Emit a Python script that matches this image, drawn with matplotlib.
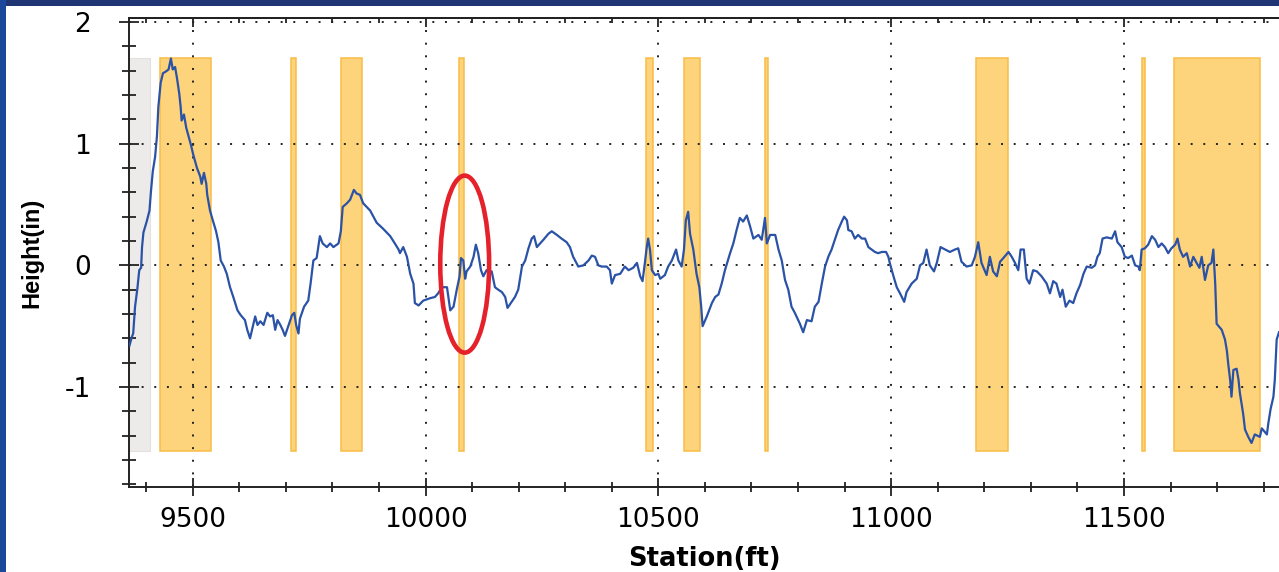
import matplotlib
matplotlib.use("Agg")
import matplotlib.pyplot as plt
from matplotlib.ticker import MultipleLocator, NullFormatter
from matplotlib.patches import Ellipse, Rectangle

# ---------------- data ----------------
station = [
    9364, 9369, 9372, 9376, 9381, 9385, 9389, 9391, 9394, 9401, 9407, 9410, 9414, 9419, 9423, 9426,
    9431, 9436, 9441, 9448, 9453, 9457, 9462, 9466, 9471, 9474, 9476, 9481, 9486, 9491, 9496, 9501,
    9509, 9516, 9519, 9524, 9529, 9531, 9537, 9543, 9550, 9555, 9560, 9567, 9573, 9580, 9587, 9596,
    9603, 9612, 9617, 9623, 9629, 9634, 9639, 9645, 9652, 9660, 9666, 9672, 9677, 9682, 9688, 9693,
    9698, 9705, 9713, 9718, 9722, 9727, 9730, 9739, 9748, 9753, 9759, 9766, 9773, 9779, 9788, 9795,
    9802, 9813, 9818, 9822, 9831, 9838, 9846, 9852, 9859, 9866, 9881, 9895, 9909, 9924, 9934, 9942,
    9945, 9952, 9960, 9967, 9974, 9977, 9985, 9995, 10010, 10020, 10027, 10035, 10046, 10053, 10060, 10067,
    10073, 10076, 10081, 10085, 10088, 10096, 10103, 10108, 10113, 10119, 10124, 10131, 10142, 10149, 10156, 10164,
    10171, 10176, 10185, 10192, 10199, 10207, 10214, 10221, 10228, 10233, 10239, 10246, 10253, 10264, 10271, 10282,
    10292, 10303, 10310, 10317, 10328, 10339, 10350, 10357, 10364, 10371, 10378, 10389, 10396, 10400, 10407, 10418,
    10428, 10436, 10446, 10454, 10461, 10466, 10471, 10475, 10478, 10482, 10486, 10493, 10500, 10504, 10514, 10521,
    10529, 10538, 10543, 10550, 10555, 10559, 10564, 10568, 10575, 10582, 10588, 10592, 10595, 10604, 10615, 10622,
    10629, 10636, 10643, 10654, 10661, 10668, 10675, 10682, 10690, 10697, 10704, 10715, 10722, 10729, 10733, 10740,
    10751, 10758, 10765, 10772, 10779, 10786, 10793, 10804, 10811, 10819, 10829, 10836, 10844, 10851, 10858, 10865,
    10872, 10879, 10886, 10894, 10899, 10905, 10908, 10915, 10922, 10929, 10937, 10944, 10951, 10958, 10965, 10972,
    10980, 10989, 10994, 10997, 11005, 11012, 11019, 11028, 11033, 11044, 11055, 11062, 11069, 11076, 11083, 11092,
    11098, 11106, 11116, 11126, 11137, 11144, 11151, 11162, 11173, 11180, 11187, 11194, 11205, 11212, 11219, 11227,
    11234, 11241, 11252, 11259, 11266, 11273, 11278, 11285, 11291, 11297, 11305, 11313, 11323, 11334, 11341, 11348,
    11355, 11363, 11368, 11375, 11383, 11391, 11398, 11406, 11413, 11420, 11431, 11438, 11443, 11448, 11454, 11463,
    11474, 11481, 11486, 11495, 11502, 11509, 11517, 11524, 11531, 11534, 11538, 11545, 11552, 11560, 11567, 11574,
    11581, 11588, 11595, 11602, 11610, 11615, 11620, 11627, 11635, 11642, 11649, 11656, 11662, 11667, 11674, 11681,
    11688, 11692, 11696, 11699, 11710, 11717, 11721, 11724, 11728, 11731, 11735, 11742, 11746, 11749, 11756, 11760,
    11767, 11774, 11781, 11792, 11796, 11807, 11810, 11815, 11821, 11824, 11828, 11833,
]
height = [
    -0.66, -0.59, -0.56, -0.34, -0.19, -0.04, -0.02, 0.15, 0.27, 0.36, 0.45, 0.60, 0.77, 0.89, 1.06, 1.30,
    1.50, 1.58, 1.59, 1.61, 1.70, 1.61, 1.63, 1.54, 1.41, 1.30, 1.19, 1.24, 1.13, 1.06, 0.99, 0.91,
    0.80, 0.73, 0.67, 0.76, 0.67, 0.58, 0.45, 0.37, 0.28, 0.19, 0.04, -0.01, -0.07, -0.18, -0.26, -0.37,
    -0.41, -0.45, -0.53, -0.60, -0.50, -0.42, -0.49, -0.46, -0.49, -0.39, -0.42, -0.41, -0.53, -0.45, -0.49, -0.53,
    -0.58, -0.50, -0.41, -0.39, -0.49, -0.56, -0.44, -0.34, -0.29, -0.15, 0.04, 0.06, 0.24, 0.18, 0.15, 0.18,
    0.15, 0.18, 0.28, 0.48, 0.51, 0.54, 0.62, 0.59, 0.58, 0.51, 0.45, 0.35, 0.30, 0.24, 0.18, 0.13,
    0.10, 0.15, 0.07, -0.07, -0.15, -0.31, -0.33, -0.29, -0.27, -0.26, -0.23, -0.18, -0.18, -0.37, -0.34, -0.20,
    -0.09, 0.06, 0.04, -0.11, -0.05, -0.01, 0.07, 0.17, 0.10, -0.04, -0.09, -0.04, -0.05, -0.18, -0.20, -0.22,
    -0.26, -0.35, -0.30, -0.26, -0.20, -0.01, 0.04, 0.14, 0.22, 0.24, 0.15, 0.18, 0.21, 0.26, 0.28, 0.25,
    0.22, 0.19, 0.15, 0.07, -0.01, 0.00, 0.04, 0.08, 0.07, 0.00, -0.01, -0.01, -0.04, -0.15, -0.08, -0.07,
    -0.01, -0.04, -0.02, 0.02, -0.09, -0.13, 0.02, 0.15, 0.22, 0.13, -0.04, -0.08, -0.07, -0.11, -0.08, -0.01,
    0.04, 0.13, 0.04, -0.01, 0.13, 0.37, 0.44, 0.26, 0.13, -0.07, -0.18, -0.34, -0.50, -0.42, -0.31, -0.26,
    -0.24, -0.15, -0.04, 0.10, 0.18, 0.29, 0.39, 0.36, 0.41, 0.32, 0.22, 0.25, 0.21, 0.39, 0.18, 0.25,
    0.25, 0.13, 0.04, -0.12, -0.20, -0.34, -0.39, -0.48, -0.55, -0.45, -0.46, -0.34, -0.30, -0.15, -0.01, 0.07,
    0.13, 0.21, 0.29, 0.36, 0.40, 0.37, 0.29, 0.28, 0.22, 0.25, 0.22, 0.22, 0.15, 0.13, 0.11, 0.10,
    0.11, 0.11, 0.07, 0.02, -0.09, -0.18, -0.23, -0.30, -0.22, -0.15, -0.11, 0.00, 0.02, 0.13, 0.00, -0.05,
    0.02, 0.15, 0.13, 0.11, 0.13, 0.14, 0.03, -0.01, 0.00, 0.07, 0.19, 0.02, -0.08, 0.07, -0.05, -0.09,
    0.03, 0.06, 0.11, 0.07, 0.02, -0.04, 0.13, 0.13, -0.11, -0.15, -0.04, -0.05, -0.09, -0.15, -0.23, -0.13,
    -0.15, -0.26, -0.20, -0.34, -0.29, -0.31, -0.23, -0.16, -0.07, -0.01, -0.02, 0.00, 0.07, 0.10, 0.22, 0.23,
    0.22, 0.28, 0.19, 0.15, 0.07, 0.06, 0.08, 0.00, -0.01, -0.04, 0.13, 0.14, 0.17, 0.24, 0.21, 0.15,
    0.18, 0.15, 0.10, 0.14, 0.17, 0.22, 0.13, 0.07, 0.10, -0.01, 0.07, 0.02, -0.02, 0.07, -0.12, 0.00,
    0.02, 0.13, -0.15, -0.48, -0.53, -0.61, -0.70, -0.81, -0.94, -1.08, -0.86, -0.85, -0.94, -1.05, -1.22, -1.35,
    -1.41, -1.46, -1.39, -1.41, -1.34, -1.39, -1.30, -1.18, -1.08, -0.94, -0.61, -0.55,
]

# highlighted (orange) segments [start, end] in ft
band_start = [9430, 9711, 9818, 10072, 10474, 10556, 10729, 11182, 11538, 11607]
band_end = [9539, 9722, 9863, 10082, 10488, 10589, 10735, 11251, 11545, 11792]
# grey segment at the start
grey_start = [9363]
grey_end = [9408]
band_bottom = -1.525
band_top = 1.705

x_ticks = [9500, 10000, 10500, 11000, 11500]
y_ticks = [-1, 0, 1, 2]

# red highlight ellipse (annotation)
ellipse_center = (10084, 0.01)
ellipse_width = 105
ellipse_height = 1.455

# ---------------- figure ----------------
W, H = 1279, 572
fig = plt.figure(figsize=(W / 100, H / 100), dpi=100)
fig.patch.set_facecolor("white")

# slide border strips (top / left)
fig.patches.append(Rectangle((0, 1 - 6 / H), 1, 6 / H, transform=fig.transFigure,
                             facecolor="#1F3473", edgecolor="none", zorder=0))
fig.patches.append(Rectangle((0, 0), 6 / W, 1, transform=fig.transFigure,
                             facecolor="#1C479A", edgecolor="none", zorder=0))

ax_l, ax_r, ax_t, ax_b = 129, 1279, 18, 487
ax = fig.add_axes([ax_l / W, (H - ax_b) / H, (ax_r - ax_l) / W, (ax_b - ax_t) / H])
ax.set_facecolor("white")

ax.set_xlim(9363, 11833)
ax.set_ylim(-1.822, 2.033)

# bands
for s, e in zip(grey_start, grey_end):
    ax.add_patch(Rectangle((s, band_bottom), e - s, band_top - band_bottom,
                           facecolor="#ECEBEA", edgecolor="#E2E1E0", lw=0.8, zorder=1))
for s, e in zip(band_start, band_end):
    ax.add_patch(Rectangle((s, band_bottom), e - s, band_top - band_bottom,
                           facecolor="#FDD37C", edgecolor="#F9BC45", lw=1.1, zorder=1))

# profile line
ax.plot(station, height, color="#2A52A6", lw=1.6, zorder=3)

# ellipse annotation
ax.add_patch(Ellipse(ellipse_center, ellipse_width, ellipse_height, fill=False,
                     edgecolor="#E5222B", lw=3.3, zorder=5))

# grid
ax.set_xticks(x_ticks)
ax.set_yticks(y_ticks)
ax.xaxis.set_minor_locator(MultipleLocator(100))
ax.yaxis.set_minor_locator(MultipleLocator(0.2))
ax.grid(which="major", color="#222222", linestyle=(0, (1, 5.5)), linewidth=1.4, zorder=2)

# spines
ax.spines["right"].set_visible(False)
for side in ["left", "bottom", "top"]:
    ax.spines[side].set_color("#222222")
    ax.spines[side].set_linewidth(1.4)

ax.tick_params(axis="x", which="major", direction="inout", length=13, width=1.3,
               color="#222222", pad=8, labelsize=19)
ax.tick_params(axis="x", which="minor", direction="inout", length=7, width=1.3, color="#222222")
ax.tick_params(axis="y", which="major", direction="inout", length=15, width=1.3,
               color="#222222", pad=20, labelsize=19)
ax.tick_params(axis="y", which="minor", direction="inout", length=10, width=1.3, color="#222222")
ax.set_yticklabels([str(v) if v >= 0 else "-" + str(-v) for v in y_ticks])

# top ticks pointing in
sec = ax.secondary_xaxis("top")
sec.set_xticks(x_ticks)
sec.xaxis.set_minor_locator(MultipleLocator(100))
sec.xaxis.set_major_formatter(NullFormatter())
sec.tick_params(which="major", direction="in", length=6.5, width=1.3, color="#222222")
sec.tick_params(which="minor", direction="in", length=3.6, width=1.3, color="#222222")
sec.spines["top"].set_linewidth(1.4)
sec.spines["top"].set_color("#222222")

ax.set_xlabel("Station(ft)", fontsize=18.5, fontweight="bold", family="DejaVu Sans")
ax.xaxis.set_label_coords(0.5, -0.1258)
ax.set_ylabel("Height(in)", fontsize=17, fontweight="bold", family="Liberation Sans")
ax.yaxis.set_label_coords(-0.0745, 0.5)

fig.savefig("out.png", dpi=100)
